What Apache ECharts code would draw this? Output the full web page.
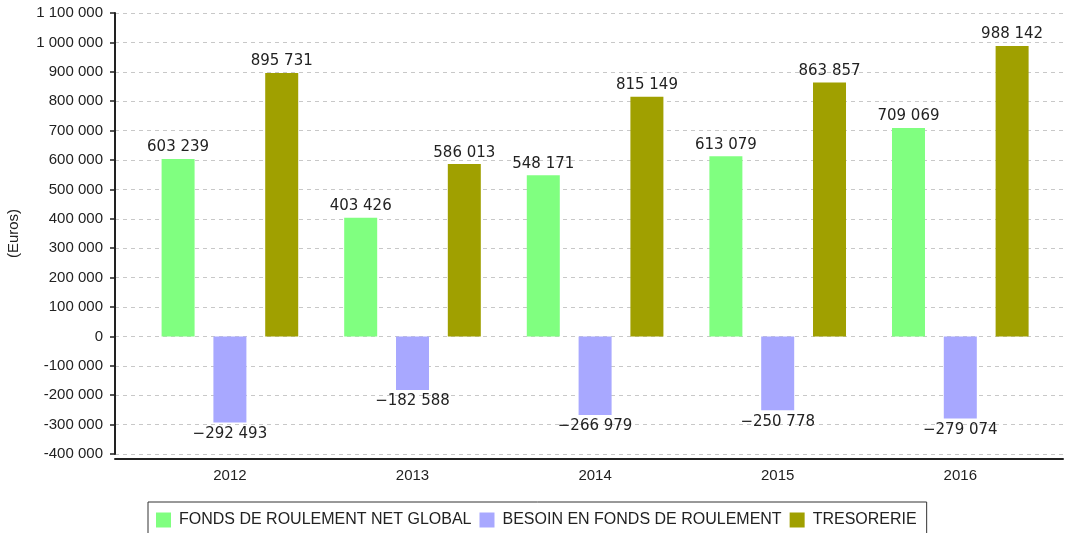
<!DOCTYPE html>
<html>
<head>
<meta charset="utf-8">
<script src="https://cdn.jsdelivr.net/npm/echarts@6/dist/echarts.min.js"></script>
<style>
  html, body { margin: 0; padding: 0; background: #fff; }
  #chart { width: 1066px; height: 533px; }
</style>
</head>
<body>
<div id="chart"></div>
<script>
// Working capital overview, 2012–2016 (in euros)
const years = ['2012', '2013', '2014', '2015', '2016'];
const fondsRoulement = [603239, 403426, 548171, 613079, 709069];
const besoinFonds = [-292493, -182588, -266979, -250778, -279074];
const tresorerie = [895731, 586013, 815149, 863857, 988142];

const seriesNames = ['FONDS DE ROULEMENT NET GLOBAL', 'BESOIN EN FONDS DE ROULEMENT', 'TRESORERIE'];
const seriesColors = ['#80ff80', '#a8a8ff', '#a0a000'];

const yMin = -400000, yMax = 1100000, yStep = 100000;

function groupThousands(v) {
  const s = Math.abs(Math.round(v)).toString().replace(/\B(?=(\d{3})+(?!\d))/g, ' ');
  return (v < 0 ? '-' : '') + s;
}
function labelValue(v) {
  const s = Math.abs(Math.round(v)).toString().replace(/\B(?=(\d{3})+(?!\d))/g, ' ');
  return (v < 0 ? '\u2212' : '') + s;
}

const labelFont = { fontFamily: 'DejaVu Sans', fontSize: 15, color: '#222' };

function barSeries(idx, values) {
  return {
    name: seriesNames[idx],
    type: 'bar',
    xAxisIndex: 1,
    yAxisIndex: 1,
    barWidth: 33,
    barGap: '57%',
    itemStyle: { color: seriesColors[idx] },
    data: values.map(v => ({
      value: v,
      label: {
        show: true,
        position: v < 0 ? 'bottom' : 'top',
        distance: 4,
        formatter: p => labelValue(p.value),
        ...labelFont
      }
    }))
  };
}

const chart = echarts.init(document.getElementById('chart'), null, { renderer: 'canvas' });
chart.setOption({
  animation: false,
  backgroundColor: '#fff',
  grid: [
    { left: 115, right: 3, top: 13, bottom: 79, outerBoundsMode: 'none', containLabel: false },
    { left: 138.6, right: 14.4, top: 13, bottom: 79, outerBoundsMode: 'none', containLabel: false }
  ],
  legend: {
    data: seriesNames,
    left: 148,
    top: 502,
    orient: 'horizontal',
    icon: 'rect',
    itemWidth: 15,
    itemHeight: 15,
    itemGap: 8,
    padding: [10, 10, 10, 8],
    borderColor: '#333',
    borderWidth: 1,
    textStyle: { fontFamily: 'Liberation Sans', fontSize: 16, color: '#222', padding: [0, 0, 0, 3] }
  },
  xAxis: [
    {
      gridIndex: 0,
      type: 'category',
      data: years,
      position: 'bottom',
      offset: 5,
      axisLine: { show: true, onZero: false, lineStyle: { color: '#222', width: 2 } },
      axisTick: { show: false },
      axisLabel: { show: false },
      splitLine: { show: false }
    },
    {
      gridIndex: 1,
      type: 'category',
      data: years,
      position: 'bottom',
      axisLine: { show: false, onZero: false },
      axisTick: { show: false },
      axisLabel: {
        show: true,
        margin: 14,
        fontFamily: 'Liberation Sans',
        fontSize: 15,
        color: '#222'
      },
      splitLine: { show: false }
    }
  ],
  yAxis: [
    {
      gridIndex: 0,
      type: 'value',
      min: yMin,
      max: yMax,
      interval: yStep,
      name: '(Euros)',
      nameLocation: 'middle',
      nameGap: 94,
      nameRotate: 90,
      nameTextStyle: { fontFamily: 'Liberation Sans', fontSize: 15, color: '#222' },
      axisLine: { show: true, lineStyle: { color: '#222', width: 2 } },
      axisTick: { show: true, length: 5, lineStyle: { color: '#222', width: 1.5 } },
      axisLabel: {
        margin: 12,
        fontFamily: 'Liberation Sans',
        fontSize: 15,
        color: '#222',
        formatter: v => groupThousands(v)
      },
      splitLine: { show: true, lineStyle: { color: '#c8c8c8', type: [4, 4], width: 1 } }
    },
    {
      gridIndex: 1,
      type: 'value',
      min: yMin,
      max: yMax,
      interval: yStep,
      show: false,
      splitLine: { show: false }
    }
  ],
  series: [
    barSeries(0, fondsRoulement),
    barSeries(1, besoinFonds),
    barSeries(2, tresorerie)
  ]
});
</script>
</body>
</html>
